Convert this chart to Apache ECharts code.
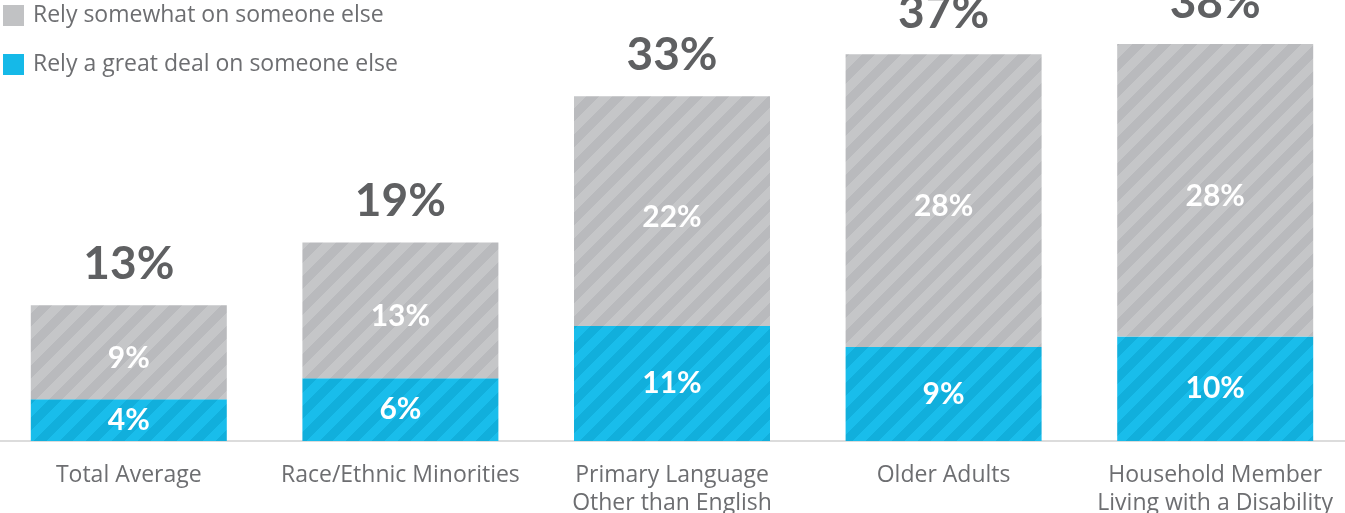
<!DOCTYPE html>
<html>
<head>
<meta charset="utf-8">
<script src="https://cdn.jsdelivr.net/npm/echarts@6/dist/echarts.min.js"></script>
<style>
  html, body { margin: 0; padding: 0; background: #fff; overflow: hidden; }
  #chart { position: absolute; left: -7px; top: 0; width: 1358px; height: 513px; }
</style>
</head>
<body>
<div id="chart"></div>
<script>
// categories and values
const categories = [
  "Total Average",
  "Race/Ethnic Minorities",
  "Primary Language\nOther than English",
  "Older Adults",
  "Household Member\nLiving with a Disability"
];
const greatDeal = [4, 6, 11, 9, 10];
const somewhat = [9, 13, 22, 28, 28];
const totals = [13, 19, 33, 37, 38];

// striped fill, light band every other half period, running "/"
function stripes(base, light) {
  const size = 26;
  const c = document.createElement("canvas");
  c.width = size;
  c.height = size;
  const ctx = c.getContext("2d");
  ctx.fillStyle = base;
  ctx.fillRect(0, 0, size, size);
  ctx.fillStyle = light;
  for (let y = 0; y < size; y++) {
    for (let x = 0; x < size; x++) {
      if ((x + y) % size < size / 2) ctx.fillRect(x, y, 1, 1);
    }
  }
  return { image: c, repeat: "repeat" };
}

const chart = echarts.init(document.getElementById("chart"));
const textGray = "#6d6e71";
const font = "Open Sans";

chart.setOption({
  animation: false,
  grid: { left: 0, right: 0, top: 23, bottom: 72, containLabel: false, outerBoundsMode: "none" },
  legend: {
    orient: "vertical",
    left: 10,
    top: 4,
    padding: 0,
    itemWidth: 21,
    itemHeight: 21,
    itemGap: 26,
    icon: "rect",
    textStyle: { color: textGray, fontSize: 23, fontFamily: font, padding: [0, 0, 0, 4] },
    data: [
      { name: "Rely somewhat on someone else", itemStyle: { color: "#c1c2c4" } },
      { name: "Rely a great deal on someone else", itemStyle: { color: "#15b9e8" } }
    ]
  },
  xAxis: {
    type: "category",
    data: categories,
    axisTick: { show: false },
    axisLine: { lineStyle: { color: "#dcdcdc", width: 2 } },
    axisLabel: {
      color: textGray,
      fontSize: 23,
      fontFamily: font,
      lineHeight: 28,
      margin: 20,
      interval: 0
    }
  },
  yAxis: {
    type: "value",
    min: 0,
    max: 40,
    show: false,
    splitLine: { show: false }
  },
  series: [
    {
      name: "Rely a great deal on someone else",
      type: "bar",
      stack: "all",
      barWidth: 196,
      data: greatDeal,
      itemStyle: { color: stripes("#11afdc", "#19bdeb") },
      label: {
        show: true,
        position: "inside",
        formatter: "{c}%",
        color: "#fff",
        fontSize: 30,
        fontWeight: "bold",
        fontFamily: "Lato"
      }
    },
    {
      name: "Rely somewhat on someone else",
      type: "bar",
      stack: "all",
      barWidth: 196,
      data: somewhat,
      itemStyle: { color: stripes("#b9babd", "#c5c6c8") },
      label: {
        show: true,
        position: "inside",
        offset: [0, 6],
        formatter: "{c}%",
        color: "#fff",
        fontSize: 30,
        fontWeight: "bold",
        fontFamily: "Lato"
      }
    },
    {
      name: "total",
      type: "bar",
      stack: "all",
      barWidth: 196,
      data: totals.map(() => 0),
      itemStyle: { color: "transparent" },
      label: {
        show: true,
        position: "top",
        distance: 18,
        formatter: (p) => totals[p.dataIndex] + "%",
        color: "#5f6062",
        fontSize: 46,
        fontWeight: "bold",
        fontFamily: "Lato"
      }
    }
  ]
});

window.addEventListener("resize", () => {
  chart.resize();
});
</script>
</body>
</html>
